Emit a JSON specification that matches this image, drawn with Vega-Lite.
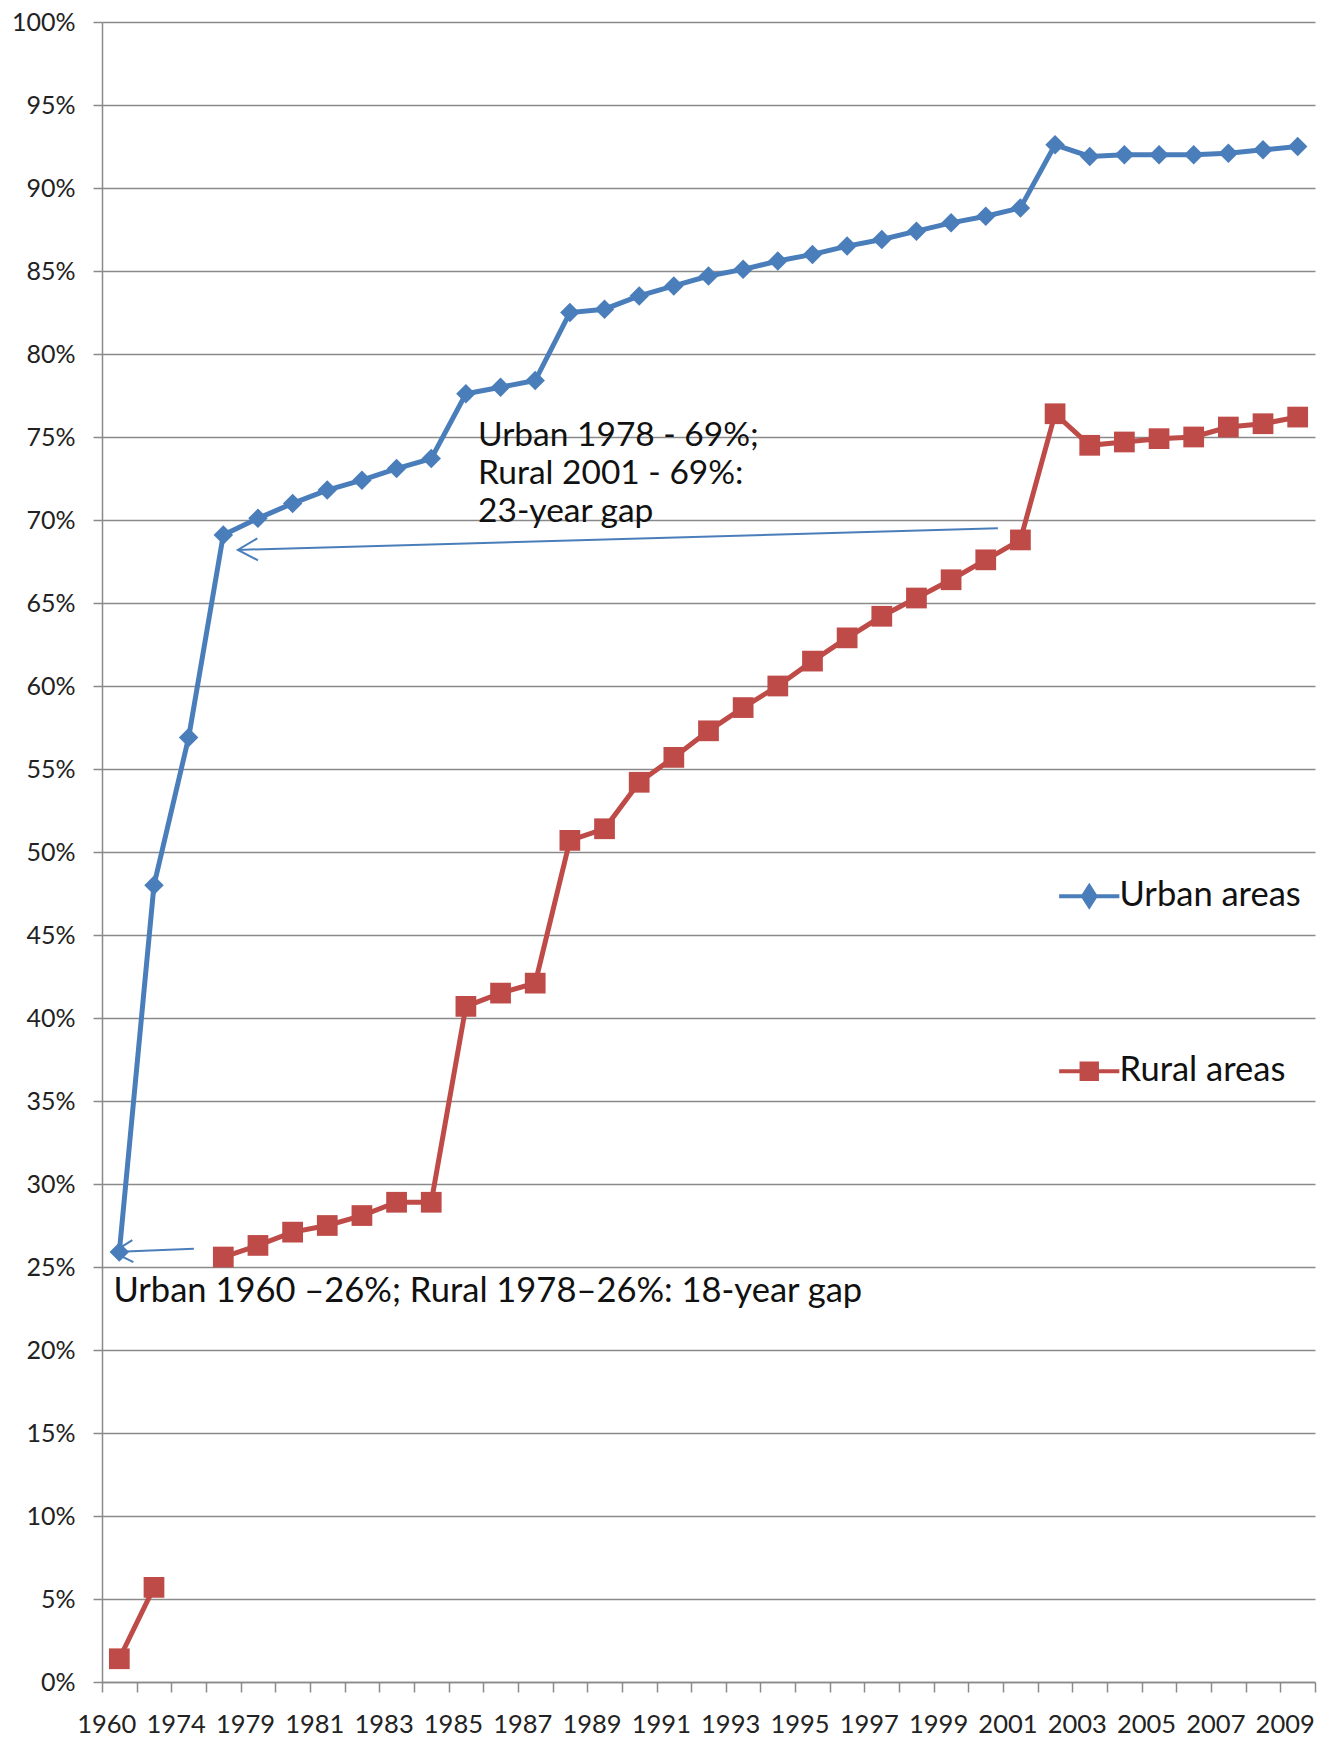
{
  "$schema": "https://vega.github.io/schema/vega-lite/v6.json",
  "width": 1213,
  "height": 1660,
  "autosize": {"type": "none"},
  "padding": {"left": 102, "top": 22, "right": 9, "bottom": 59},
  "background": "white",
  "config": {
    "font": "Lato",
    "view": {"stroke": null},
    "axis": {"labelFont": "Lato", "labelColor": "#222222", "domainColor": "#8a8a8a", "tickColor": "#8a8a8a", "gridColor": "#8a8a8a", "title": null}
  },
  "datasets": {
    "series": [
      {"year": "1960", "series": "Urban areas", "value": 25.9},
      {"year": "1970", "series": "Urban areas", "value": 48.0},
      {"year": "1974", "series": "Urban areas", "value": 56.9},
      {"year": "1978", "series": "Urban areas", "value": 69.1},
      {"year": "1979", "series": "Urban areas", "value": 70.1},
      {"year": "1980", "series": "Urban areas", "value": 71.0},
      {"year": "1981", "series": "Urban areas", "value": 71.8},
      {"year": "1982", "series": "Urban areas", "value": 72.4},
      {"year": "1983", "series": "Urban areas", "value": 73.1},
      {"year": "1984", "series": "Urban areas", "value": 73.7},
      {"year": "1985", "series": "Urban areas", "value": 77.6},
      {"year": "1986", "series": "Urban areas", "value": 78.0},
      {"year": "1987", "series": "Urban areas", "value": 78.4},
      {"year": "1988", "series": "Urban areas", "value": 82.5},
      {"year": "1989", "series": "Urban areas", "value": 82.7},
      {"year": "1990", "series": "Urban areas", "value": 83.5},
      {"year": "1991", "series": "Urban areas", "value": 84.1},
      {"year": "1992", "series": "Urban areas", "value": 84.7},
      {"year": "1993", "series": "Urban areas", "value": 85.1},
      {"year": "1994", "series": "Urban areas", "value": 85.6},
      {"year": "1995", "series": "Urban areas", "value": 86.0},
      {"year": "1996", "series": "Urban areas", "value": 86.5},
      {"year": "1997", "series": "Urban areas", "value": 86.9},
      {"year": "1998", "series": "Urban areas", "value": 87.4},
      {"year": "1999", "series": "Urban areas", "value": 87.9},
      {"year": "2000", "series": "Urban areas", "value": 88.3},
      {"year": "2001", "series": "Urban areas", "value": 88.8},
      {"year": "2002", "series": "Urban areas", "value": 92.6},
      {"year": "2003", "series": "Urban areas", "value": 91.9},
      {"year": "2004", "series": "Urban areas", "value": 92.0},
      {"year": "2005", "series": "Urban areas", "value": 92.0},
      {"year": "2006", "series": "Urban areas", "value": 92.0},
      {"year": "2007", "series": "Urban areas", "value": 92.1},
      {"year": "2008", "series": "Urban areas", "value": 92.3},
      {"year": "2009", "series": "Urban areas", "value": 92.5},
      {"year": "1960", "series": "Rural areas", "value": 1.4},
      {"year": "1970", "series": "Rural areas", "value": 5.7},
      {"year": "1974", "series": "Rural areas", "value": null},
      {"year": "1978", "series": "Rural areas", "value": 25.6},
      {"year": "1979", "series": "Rural areas", "value": 26.3},
      {"year": "1980", "series": "Rural areas", "value": 27.1},
      {"year": "1981", "series": "Rural areas", "value": 27.5},
      {"year": "1982", "series": "Rural areas", "value": 28.1},
      {"year": "1983", "series": "Rural areas", "value": 28.9},
      {"year": "1984", "series": "Rural areas", "value": 28.9},
      {"year": "1985", "series": "Rural areas", "value": 40.7},
      {"year": "1986", "series": "Rural areas", "value": 41.5},
      {"year": "1987", "series": "Rural areas", "value": 42.1},
      {"year": "1988", "series": "Rural areas", "value": 50.7},
      {"year": "1989", "series": "Rural areas", "value": 51.4},
      {"year": "1990", "series": "Rural areas", "value": 54.2},
      {"year": "1991", "series": "Rural areas", "value": 55.7},
      {"year": "1992", "series": "Rural areas", "value": 57.3},
      {"year": "1993", "series": "Rural areas", "value": 58.7},
      {"year": "1994", "series": "Rural areas", "value": 60.0},
      {"year": "1995", "series": "Rural areas", "value": 61.5},
      {"year": "1996", "series": "Rural areas", "value": 62.9},
      {"year": "1997", "series": "Rural areas", "value": 64.2},
      {"year": "1998", "series": "Rural areas", "value": 65.3},
      {"year": "1999", "series": "Rural areas", "value": 66.4},
      {"year": "2000", "series": "Rural areas", "value": 67.6},
      {"year": "2001", "series": "Rural areas", "value": 68.8},
      {"year": "2002", "series": "Rural areas", "value": 76.4},
      {"year": "2003", "series": "Rural areas", "value": 74.5},
      {"year": "2004", "series": "Rural areas", "value": 74.7},
      {"year": "2005", "series": "Rural areas", "value": 74.9},
      {"year": "2006", "series": "Rural areas", "value": 75.0},
      {"year": "2007", "series": "Rural areas", "value": 75.6},
      {"year": "2008", "series": "Rural areas", "value": 75.8},
      {"year": "2009", "series": "Rural areas", "value": 76.2}
    ],
    "arrows": [
      {"id": "a1", "fromYear": "2000", "fromValue": 69.5, "toYear": "1978", "toValue": 68.2},
      {"id": "a2", "fromYear": "1974", "fromValue": 26.1, "toYear": "1960", "toValue": 25.9}
    ],
    "notes": [
      {"id": "n1", "year": "1985", "value": 74.45, "text": "Urban 1978 - 69%;\nRural 2001 - 69%:\n23-year gap"},
      {"id": "n2", "year": "1960", "value": 22.9, "text": "Urban 1960 –26%; Rural 1978–26%: 18-year gap"}
    ]
  },
  "layer": [
    {
      "data": {"name": "series"},
      "mark": {"type": "line", "strokeWidth": 5, "invalid": "break-paths-show-domains"},
      "encoding": {
        "x": {
          "field": "year", "type": "ordinal",
          "scale": {"type": "band", "paddingInner": 0, "paddingOuter": 0},
          "axis": {"tickBand": "extent", "labelOverlap": "parity", "labelAngle": 0, "labelOffset": -13, "tickSize": 10, "labelPadding": 20, "labelFontSize": 25.5, "domainWidth": 1.5, "tickWidth": 1.5, "grid": false}
        },
        "y": {
          "field": "value", "type": "quantitative",
          "scale": {"domain": [0, 100], "nice": false, "zero": true},
          "axis": {"values": [0,5,10,15,20,25,30,35,40,45,50,55,60,65,70,75,80,85,90,95,100], "labelExpr": "datum.value + '%'", "labelFontSize": 25, "tickSize": 9, "labelPadding": 18, "grid": true, "gridWidth": 1.5, "domainWidth": 1.5, "tickWidth": 1.5}
        },
        "color": {
          "field": "series", "type": "nominal",
          "scale": {"domain": ["Urban areas", "Rural areas"], "range": ["#4A7EBB", "#BE4B48"]},
          "legend": {
            "title": null, "orient": "none", "legendX": 970, "legendY": 857, "direction": "vertical",
            "padding": 0, "symbolSize": 196, "labelFontSize": 34.5, "labelFont": "Lato", "labelColor": "#111111",
            "labelLimit": 0, "labelOffset": 13, "rowPadding": 138,
            "encode": {
              "symbols": {
                "update": {
                  "shape": {"signal": "datum.value === 'Urban areas' ? 'M -4.3 0 L 4.3 0 M 0 -1.4 L 0.9 0 L 0 1.4 L -0.9 0 Z' : 'M -4.3 0 L 4.3 0 M -1.1 -1.1 L 1.1 -1.1 L 1.1 1.1 L -1.1 1.1 Z'"},
                  "fill": {"signal": "datum.value === 'Urban areas' ? '#4A7EBB' : '#BE4B48'"},
                  "stroke": {"signal": "datum.value === 'Urban areas' ? '#4A7EBB' : '#BE4B48'"},
                  "strokeWidth": {"value": 4},
                  "opacity": {"value": 1},
                  "fillOpacity": {"value": 1}
                }
              }
            }
          }
        }
      }
    },
    {
      "data": {"name": "series"},
      "transform": [{"filter": "datum.series === 'Urban areas'"}],
      "mark": {"type": "point", "filled": true, "opacity": 1, "shape": "diamond", "size": 380},
      "encoding": {
        "x": {"field": "year", "type": "ordinal"},
        "y": {"field": "value", "type": "quantitative"},
        "color": {"field": "series", "type": "nominal"}
      }
    },
    {
      "data": {"name": "series"},
      "transform": [{"filter": "datum.series === 'Rural areas'"}],
      "mark": {"type": "point", "filled": true, "opacity": 1, "shape": "square", "size": 430},
      "encoding": {
        "x": {"field": "year", "type": "ordinal"},
        "y": {"field": "value", "type": "quantitative"},
        "color": {"field": "series", "type": "nominal"}
      }
    },
    {
      "data": {"name": "arrows"},
      "transform": [{"filter": "datum.id === 'a1'"}],
      "mark": {"type": "rule", "color": "#4A7EBB", "strokeWidth": 2},
      "encoding": {
        "x": {"field": "fromYear", "type": "ordinal", "bandPosition": 0.85},
        "x2": {"field": "toYear", "bandPosition": 0.92},
        "y": {"field": "fromValue", "type": "quantitative"},
        "y2": {"field": "toValue"}
      }
    },
    {
      "data": {"name": "arrows"},
      "transform": [{"filter": "datum.id === 'a1'"}],
      "mark": {"type": "point", "shape": "M 1.8 -1 L 0 0 L 1.8 1", "filled": false, "stroke": "#4A7EBB", "strokeWidth": 2, "size": 484, "angle": -1.7, "opacity": 1},
      "encoding": {
        "x": {"field": "toYear", "type": "ordinal", "bandPosition": 0.92},
        "y": {"field": "toValue", "type": "quantitative"}
      }
    },
    {
      "data": {"name": "arrows"},
      "transform": [{"filter": "datum.id === 'a2'"}],
      "mark": {"type": "rule", "color": "#4A7EBB", "strokeWidth": 2},
      "encoding": {
        "x": {"field": "fromYear", "type": "ordinal", "bandPosition": 0.65},
        "x2": {"field": "toYear", "bandPosition": 0.32},
        "y": {"field": "fromValue", "type": "quantitative"},
        "y2": {"field": "toValue"}
      }
    },
    {
      "data": {"name": "arrows"},
      "transform": [{"filter": "datum.id === 'a2'"}],
      "mark": {"type": "point", "shape": "M 1.8 -1 L 0 0 L 1.8 1", "filled": false, "stroke": "#4A7EBB", "strokeWidth": 2, "size": 484, "angle": -2.8, "opacity": 1},
      "encoding": {
        "x": {"field": "toYear", "type": "ordinal", "bandPosition": 0.32},
        "y": {"field": "toValue", "type": "quantitative"}
      }
    },
    {
      "data": {"name": "notes"},
      "transform": [{"filter": "datum.id === 'n1'"}],
      "mark": {"type": "text", "align": "left", "baseline": "alphabetic", "fontSize": 33.5, "font": "Lato", "color": "#111111", "lineBreak": "\n", "lineHeight": 38},
      "encoding": {
        "x": {"field": "year", "type": "ordinal", "bandPosition": 0.85},
        "y": {"field": "value", "type": "quantitative"},
        "text": {"field": "text"}
      }
    },
    {
      "data": {"name": "notes"},
      "transform": [{"filter": "datum.id === 'n2'"}],
      "mark": {"type": "text", "align": "left", "baseline": "alphabetic", "fontSize": 34.5, "font": "Lato", "color": "#111111"},
      "encoding": {
        "x": {"field": "year", "type": "ordinal", "bandPosition": 0.33},
        "y": {"field": "value", "type": "quantitative"},
        "text": {"field": "text"}
      }
    }
  ]
}
